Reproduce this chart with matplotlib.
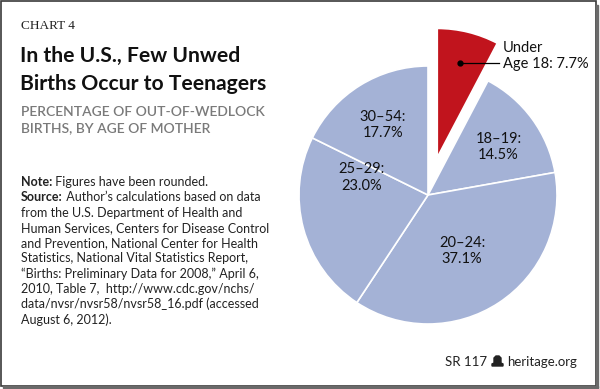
import numpy as np
import matplotlib.pyplot as plt
from matplotlib.patches import Rectangle, Polygon

# DATA
ages = ["Under\nAge 18", "18\u201319", "20\u201324", "25\u201329", "30\u201354"]
shares = [7.7, 14.5, 37.1, 23.0, 17.7]
colors = ["#c1141d", "#a4b2d6", "#a4b2d6", "#a4b2d6", "#a4b2d6"]
explode = [0.3, 0, 0, 0, 0]

# label placement (radius, angle shift in degrees) per wedge
lab_r = [0.75, 0.66, 0.51, 0.53, 0.645]
lab_shift = [0, -2, -2, -30, 1]

W, H = 600, 389
fig = plt.figure(figsize=(6, 3.89), dpi=100)
SANS = ["Lato", "DejaVu Sans"]

def fx(px):
    return px / W

def fy(py):
    return 1 - py / H

# titles and notes
fig.text(fx(21), fy(29), "CHART 4", family=["Liberation Serif", "DejaVu Serif"],
         fontsize=9.5, color="#222222", va="baseline")
fig.text(fx(20), fy(62), "In the U.S., Few Unwed", family=SANS, fontsize=15.2,
         fontweight="bold", color="#111111", va="baseline")
fig.text(fx(20), fy(90), "Births Occur to Teenagers", family=SANS, fontsize=15.2,
         fontweight="bold", color="#111111", va="baseline")
fig.text(fx(21), fy(116), "PERCENTAGE OF OUT-OF-WEDLOCK", family=SANS, fontsize=10,
         fontweight="semibold", color="#7a7a7a", va="baseline")
fig.text(fx(21), fy(132), "BIRTHS, BY AGE OF MOTHER", family=SANS, fontsize=10,
         fontweight="semibold", color="#7a7a7a", va="baseline")

note_lines = [
    ("Note:", " Figures have been rounded."),
    ("Source:", " Author\u2019s calculations based on data"),
    ("", "from the U.S. Department of Health and"),
    ("", "Human Services, Centers for Disease Control"),
    ("", "and Prevention, National Center for Health"),
    ("", "Statistics, National Vital Statistics Report,"),
    ("", "\u201cBirths: Preliminary Data for 2008,\u201d April 6,"),
    ("", "2010, Table 7,  http://www.cdc.gov/nchs/"),
    ("", "data/nvsr/nvsr58/nvsr58_16.pdf (accessed"),
    ("", "August 6, 2012)."),
]
renderer = fig.canvas.get_renderer()
for i, (bold, rest) in enumerate(note_lines):
    y = fy(186 + i * 15.3)
    x = fx(21)
    if bold:
        t = fig.text(x, y, bold, family=SANS, fontsize=9, fontweight="bold",
                     color="#222222", va="baseline")
        bb = t.get_window_extent(renderer)
        x = bb.x1 / W
    fig.text(x, y, rest, family=SANS, fontsize=9, color="#222222", va="baseline")

# pie
R = 129
cx, cy = 428, 195
side = 360
ax = fig.add_axes([fx(cx - side / 2), fy(cy + side / 2), side / W, side / H])

wedges, _ = ax.pie(shares, colors=colors, explode=explode, startangle=90,
                   counterclock=False, radius=1,
                   wedgeprops=dict(edgecolor="white", linewidth=1.2))
lim = side / 2 / R
ax.set_xlim(-lim, lim)
ax.set_ylim(-lim, lim)
ax.set_aspect("equal")
ax.axis("off")

for i, w in enumerate(wedges):
    mid = np.radians((w.theta1 + w.theta2) / 2 + lab_shift[i])
    ox, oy = w.center
    x = ox + lab_r[i] * np.cos(mid)
    y = oy + lab_r[i] * np.sin(mid)
    if i == 0:
        end_x = (503 - cx) / R - 0.03
        ax.plot([x], [y], "o", color="black", markersize=3.5)
        ax.plot([x, end_x], [y, y], color="black", linewidth=0.9)
        ax.text(end_x + 0.03, y + 0.055, f"{ages[i]}: {shares[i]:.1f}%",
                family=SANS, fontsize=10.5, color="#111111", ha="left", va="center",
                linespacing=1.2)
    else:
        ax.text(x, y, f"{ages[i]}:\n{shares[i]:.1f}%", family=SANS, fontsize=10.5,
                color="#111111", ha="center", va="center", linespacing=1.2)

# footer
fig.text(fx(577), fy(366), "heritage.org", family=SANS, fontsize=9.5,
         color="#222222", ha="right", va="baseline")
fig.text(fx(487), fy(366), "SR 117", family=SANS, fontsize=9.5,
         color="#222222", ha="right", va="baseline")
bell = [(492, 366), (503, 366), (503, 364), (501, 363), (501, 358), (499, 356),
        (496, 356), (494, 358), (494, 363), (492, 364)]
fig.add_artist(Polygon([(fx(a), fy(b)) for a, b in bell], closed=True,
                       transform=fig.transFigure, color="#222222"))

# frame
fig.add_artist(Rectangle((fx(1), fy(386)), fx(595), 385 / H, fill=False,
                         edgecolor="#3a3a3a", linewidth=1.2,
                         transform=fig.transFigure))
fig.add_artist(Rectangle((fx(3), fy(388)), fx(595), 2 / H, color="#6a6a6a",
                         transform=fig.transFigure))
fig.add_artist(Rectangle((fx(596), fy(388)), fx(2), 383 / H, color="#6a6a6a",
                         transform=fig.transFigure))

fig.savefig("out.png", dpi=100)
